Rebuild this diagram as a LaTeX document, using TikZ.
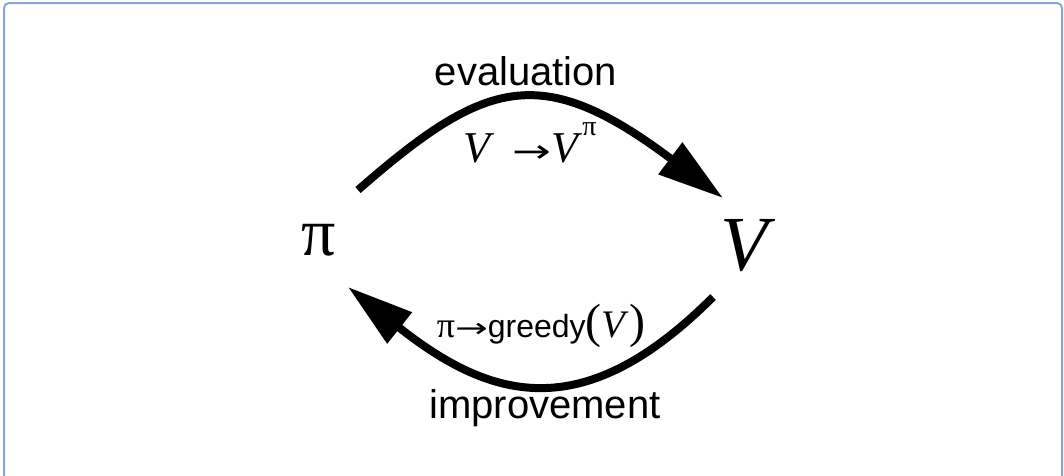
\documentclass[tikz,border=0pt]{standalone}
\usepackage{graphicx}
\usepackage{fontspec}
\setmainfont{Liberation Serif}
\setsansfont{Liberation Sans}
\newfontfamily\arrowfont{DejaVu Sans}
\usetikzlibrary{arrows.meta}
\definecolor{framecol}{HTML}{8CA5D7}
\newcommand{\maparrow}[1]{\scalebox{1.45}[1]{\arrowfont\fontsize{#1}{#1}\selectfont →}}
\tikzset{
  bigsym/.style={inner sep=0pt, anchor=base, font=\fontsize{78}{80}\selectfont},
  steplabel/.style={inner sep=0pt, anchor=base, font=\sffamily\fontsize{40}{44}\selectfont},
  maplabel/.style={inner sep=0pt, anchor=base, font=\fontsize{44}{48}\selectfont},
  cyclearr/.style={line width=8pt, -{Triangle[length=66pt,width=38pt]}}
}
\begin{document}
\begin{tikzpicture}[x=1pt,y=-1pt]
    \useasboundingbox (0,0) rectangle (1064,475);
    \draw[framecol, line width=2pt, rounded corners=5pt] (4,490) -- (4,3) -- (1062,3) -- (1062,490);
    % policy and value
    \node[bigsym, font=\fontsize{68}{70}\selectfont] (pi) at (319,255) {π};
    \node[bigsym] (val) at (748,270) {\textit{V}};
    % step names
    \node[steplabel] (evallabel) at (526,85) {evaluation};
    \node[steplabel] (improvlabel) at (545,418) {improvement};
    % update rules
    \node[maplabel] (evalmap) at (530,162) {\textit{V}\hspace{0.4em}\maparrow{32}\textit{V}\raisebox{0.6em}{\fontsize{28}{30}\selectfont π}};
    \node[maplabel] (greedymap) at (541,337) {{\fontsize{36}{40}\selectfont π}\maparrow{27}{\sffamily\fontsize{32}{34}\selectfont greedy}{\fontsize{48}{50}\selectfont(}{\fontsize{39}{40}\selectfont\textit{V}}{\fontsize{48}{50}\selectfont)}};
    % arc ends
    \coordinate (evalstart) at (358,190);
    \coordinate (evalend) at (723,198);
    \coordinate (improvstart) at (713,297);
    \coordinate (improvend) at (348,287);
    \draw[cyclearr] (evalstart) .. controls (485,79) and (541,61) .. (evalend);
    \draw[cyclearr] (improvstart) .. controls (585,425) and (493,402) .. (improvend);
\end{tikzpicture}
\end{document}
